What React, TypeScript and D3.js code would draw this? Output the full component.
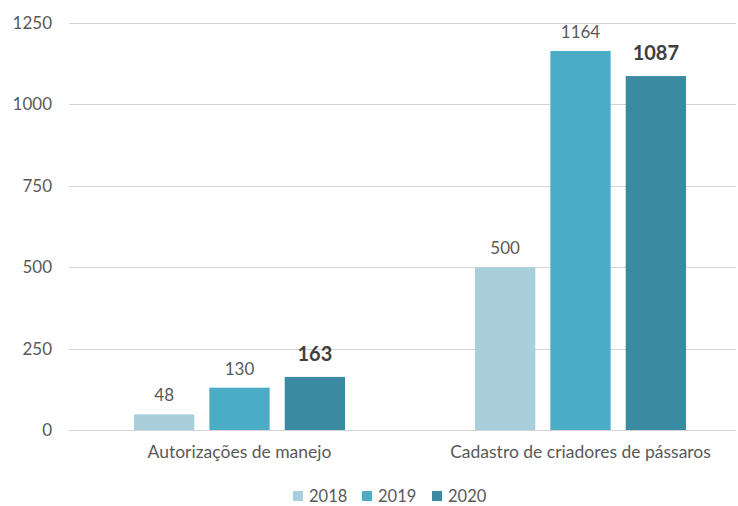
import { useEffect, useRef } from "react";
import * as d3 from "d3";

const categories = ["Autorizações de manejo", "Cadastro de criadores de pássaros"];
const years = ["2018", "2019", "2020"];
const values2018 = [48, 500];
const values2019 = [130, 1164];
const values2020 = [163, 1087];
const yTicks = [0, 250, 500, 750, 1000, 1250];
const colors = ["#a9cfdc", "#4aacc5", "#3a8ba2"];

const series = [values2018, values2019, values2020];

const App = () => {
  const svgRef = useRef<SVGSVGElement | null>(null);

  useEffect(() => {
    if (!svgRef.current) return;
    const svg = d3.select(svgRef.current);
    svg.selectAll("*").remove();

    const height = 506;
    const margin = { top: 23, left: 69, bottom: 76 };
    const font = "Lato, 'Open Sans', sans-serif";

    const x0 = d3.scaleBand().domain(categories).range([margin.left, 751]);
    const x1 = d3.scaleBand().domain(years).range([65, x0.bandwidth() - 65]).paddingInner(0.2);
    const y = d3.scaleLinear().domain([0, 1250]).range([height - margin.bottom, margin.top]);

    // gridlines
    svg
      .append("g")
      .selectAll("line")
      .data(yTicks)
      .enter()
      .append("line")
      .attr("x1", margin.left)
      .attr("x2", 736)
      .attr("y1", (d) => Math.round(y(d)) + 0.5)
      .attr("y2", (d) => Math.round(y(d)) + 0.5)
      .attr("stroke", "#d4d4d4")
      .attr("stroke-width", 1);

    // y tick labels
    svg
      .append("g")
      .selectAll("text")
      .data(yTicks)
      .enter()
      .append("text")
      .attr("x", 52)
      .attr("y", (d) => y(d) + 6)
      .attr("text-anchor", "end")
      .attr("font-family", font)
      .attr("font-size", 17)
      .attr("fill", "#595959")
      .text((d) => d);

    // bars
    series.forEach((vals, si) => {
      const g = svg.append("g");
      g.selectAll("rect")
        .data(vals)
        .enter()
        .append("rect")
        .attr("x", (_, i) => (x0(categories[i]) ?? 0) + (x1(years[si]) ?? 0))
        .attr("y", (d) => y(d))
        .attr("width", x1.bandwidth())
        .attr("height", (d) => y(0) - y(d))
        .attr("fill", colors[si]);

      g.selectAll("text")
        .data(vals)
        .enter()
        .append("text")
        .attr("x", (_, i) => (x0(categories[i]) ?? 0) + (x1(years[si]) ?? 0) + x1.bandwidth() / 2)
        .attr("y", (d) => y(d) - (si === 2 ? 16 : 13))
        .attr("text-anchor", "middle")
        .attr("font-family", font)
        .attr("font-size", si === 2 ? 20 : 17)
        .attr("font-weight", si === 2 ? "bold" : "normal")
        .attr("fill", si === 2 ? "#404040" : "#595959")
        .text((d) => d);
    });

    // category labels
    svg
      .append("g")
      .selectAll("text")
      .data(categories)
      .enter()
      .append("text")
      .attr("x", (d) => (x0(d) ?? 0) + x0.bandwidth() / 2)
      .attr("y", 458)
      .attr("text-anchor", "middle")
      .attr("font-family", font)
      .attr("font-size", 17.5)
      .attr("fill", "#595959")
      .text((d) => d);

    // legend
    const legendX = [293, 362, 432];
    const lg = svg.append("g");
    years.forEach((yr, i) => {
      lg.append("rect")
        .attr("x", legendX[i])
        .attr("y", 491)
        .attr("width", 10)
        .attr("height", 10)
        .attr("fill", colors[i]);
      lg.append("text")
        .attr("x", legendX[i] + 16)
        .attr("y", 502)
        .attr("font-family", font)
        .attr("font-size", 16.5)
        .attr("fill", "#595959")
        .text(yr);
    });
  }, []);

  return (
    <svg
      ref={svgRef}
      width={738}
      height={506}
      style={{ position: "absolute", left: 0, top: 0, background: "#fff" }}
    ></svg>
  );
};

export default App;
